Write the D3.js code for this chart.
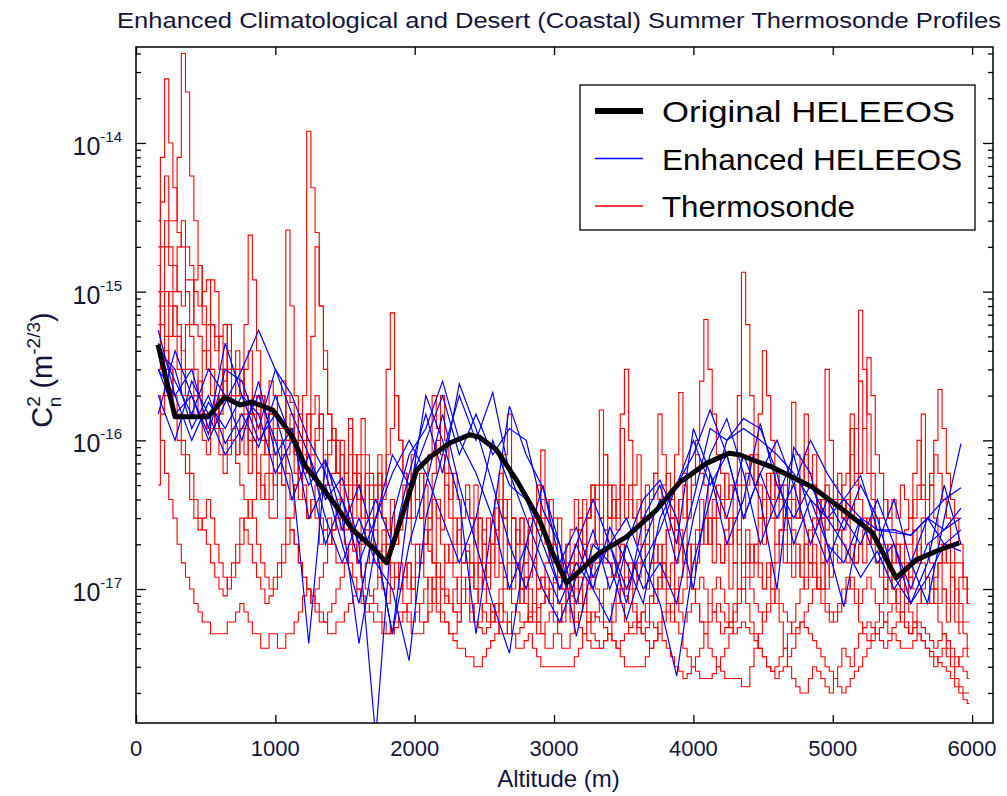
<!DOCTYPE html>
<html>
<head>
<meta charset="utf-8">
<title>Thermosonde Profiles</title>
<script src="https://d3js.org/d3.v7.min.js"></script>
<style>
  body { margin: 0; background: #fff; }
  text { font-family: "Liberation Sans", Arial, sans-serif; fill: #15153a; }
</style>
</head>
<body>
<svg id="chart" width="1007" height="796"></svg>
<script>

// thermosonde altitude grid (m), 15 per row
var sondeAlt = [
  160,190,220,250,280,310,340,370,400,430,460,490,520,550,580,
  610,640,670,700,730,760,790,820,850,880,910,940,970,1000,1030,
  1060,1090,1120,1150,1180,1210,1240,1270,1300,1330,1360,1390,1420,1450,1480,
  1510,1540,1570,1600,1630,1660,1690,1720,1750,1780,1810,1840,1870,1900,1930,
  1960,1990,2020,2050,2080,2110,2140,2170,2200,2230,2260,2290,2320,2350,2380,
  2410,2440,2470,2500,2530,2560,2590,2620,2650,2680,2710,2740,2770,2800,2830,
  2860,2890,2920,2950,2980,3010,3040,3070,3100,3130,3160,3190,3220,3250,3280,
  3310,3340,3370,3400,3430,3460,3490,3520,3550,3580,3610,3640,3670,3700,3730,
  3760,3790,3820,3850,3880,3910,3940,3970,4000,4030,4060,4090,4120,4150,4180,
  4210,4240,4270,4300,4330,4360,4390,4420,4450,4480,4510,4540,4570,4600,4630,
  4660,4690,4720,4750,4780,4810,4840,4870,4900,4930,4960,4990,5020,5050,5080,
  5110,5140,5170,5200,5230,5260,5290,5320,5350,5380,5410,5440,5470,5500,5530,
  5560,5590,5620,5650,5680,5710,5740,5770,5800,5830,5860,5890,5920,5950,5980]

var sonde1 = [
  2e-16,1e-16,6e-17,4e-17,3e-17,2e-17,1.5e-17,1.2e-17,1e-17,8e-18,7e-18,6e-18,6e-18,5e-18,5e-18,
  5e-18,5e-18,6e-18,6e-18,7e-18,8e-18,7e-18,6e-18,5e-18,5e-18,4e-18,4e-18,5e-18,5e-18,4e-18,
  4e-18,5e-18,5e-18,6e-18,7e-18,9e-18,1e-17,9e-18,8e-18,7e-18,6e-18,5e-18,5e-18,6e-18,6e-18,
  7e-18,8e-18,9e-18,1e-17,9e-18,8e-18,7e-18,6e-18,6e-18,5e-18,5e-18,6e-18,6e-18,7e-18,7e-18,
  6e-18,5e-18,5e-18,5e-18,6e-18,7e-18,8e-18,7e-18,6e-18,6e-18,5e-18,4.5e-18,4e-18,4e-18,3.5e-18,
  3.5e-18,3e-18,3e-18,3.5e-18,4e-18,4.5e-18,5e-18,6e-18,6e-18,5e-18,5e-18,4e-18,4e-18,4.5e-18,5e-18,
  4e-18,3.5e-18,3e-18,3e-18,3e-18,3e-18,3e-18,3e-18,3e-18,3e-18,3.5e-18,4e-18,5e-18,6e-18,7e-18,
  6.5e-18,6e-18,5.5e-18,5e-18,4.5e-18,4e-18,4.5e-18,5e-18,5.5e-18,6e-18,5.5e-18,5e-18,5.5e-18,6e-18,5.5e-18,
  5e-18,4.5e-18,4e-18,3.5e-18,3e-18,2.8e-18,2.5e-18,2.7e-18,3e-18,2.8e-18,2.5e-18,2.5e-18,2.5e-18,2.7e-18,3e-18,
  2.8e-18,2.5e-18,2.5e-18,2.5e-18,2.5e-18,2.2e-18,2.2e-18,3e-18,4e-18,5e-18,7e-18,8e-18,1e-17,8e-18,6e-18,
  4e-18,3e-18,2.5e-18,2.2e-18,2e-18,2e-18,2.5e-18,3e-18,2.8e-18,2.5e-18,2.2e-18,2e-18,2.5e-18,3e-18,4e-18,
  3.5e-18,3e-18,4e-18,5e-18,5.5e-18,6e-18,5.5e-18,5e-18,4.5e-18,4e-18,4.5e-18,5e-18,4.5e-18,4e-18,4e-18,
  4e-18,4.5e-18,5e-18,4.5e-18,4e-18,3.8e-18,3.5e-18,3.2e-18,3e-18,2.8e-18,2.5e-18,2.2e-18,2e-18,1.8e-18,1.7e-18]

var sonde2 = [
  1e-15,6e-16,4e-16,3e-16,2e-16,1.5e-16,1e-16,8e-17,6e-17,4e-17,3e-17,2.5e-17,2e-17,1.5e-17,1.2e-17,
  1e-17,9e-18,1.2e-17,1.5e-17,2e-17,3e-17,2.5e-17,2e-17,1.5e-17,1.2e-17,1e-17,8e-18,9e-18,1e-17,1.2e-17,
  1.5e-17,2e-17,2.5e-17,2e-17,1.5e-17,1.2e-17,1e-17,8e-18,7e-18,6e-18,6e-18,7e-18,8e-18,1e-17,1.2e-17,
  1.5e-17,2e-17,1.8e-17,1.5e-17,1.2e-17,1e-17,9e-18,8e-18,7e-18,6e-18,5e-18,5e-18,5.5e-18,6e-18,7e-18,
  8e-18,1e-17,1.2e-17,1.5e-17,2e-17,1.8e-17,1.5e-17,1.2e-17,1e-17,9e-18,8e-18,7e-18,7e-18,8e-18,8e-18,
  7e-18,6e-18,5.5e-18,5e-18,5.5e-18,6e-18,7e-18,8e-18,7e-18,6e-18,5e-18,5e-18,5.5e-18,6e-18,6.5e-18,
  7e-18,7.5e-18,8e-18,9e-18,1e-17,1.1e-17,1.2e-17,1e-17,8e-18,7e-18,6e-18,5.5e-18,5e-18,4.5e-18,4e-18,
  4e-18,4e-18,4.5e-18,5e-18,4.5e-18,4e-18,3.5e-18,3e-18,3e-18,3e-18,3e-18,3e-18,3.5e-18,4e-18,4.5e-18,
  6e-18,7e-18,8e-18,7e-18,6e-18,5e-18,4e-18,3.5e-18,3e-18,3.5e-18,4e-18,5e-18,6e-18,7e-18,8e-18,
  7e-18,6e-18,5.5e-18,5e-18,5.5e-18,6e-18,5.5e-18,5e-18,4.5e-18,4e-18,3.5e-18,3e-18,2.8e-18,2.5e-18,2.8e-18,
  3e-18,3.5e-18,4e-18,5e-18,6e-18,5.5e-18,5e-18,4.5e-18,4e-18,3.5e-18,3e-18,2.8e-18,2.5e-18,2.2e-18,2e-18,
  2.2e-18,2.5e-18,2.8e-18,3e-18,3.5e-18,4e-18,4.5e-18,5e-18,5.5e-18,6e-18,7e-18,8e-18,7e-18,6e-18,5.5e-18,
  5e-18,5.5e-18,6e-18,5.5e-18,5e-18,4.5e-18,4e-18,4.5e-18,5e-18,4.5e-18,4e-18,3.5e-18,3e-18,2.8e-18,2.5e-18]

var sonde3 = [
  2e-15,4e-15,6e-15,3e-15,3e-15,8e-15,4e-14,2.2e-14,6e-15,3e-15,1.5e-15,8e-16,6e-16,1.2e-15,1e-15,
  5e-16,2e-16,6e-16,3e-16,4e-16,2e-16,3e-16,4e-16,1.5e-16,2e-16,1e-16,8e-17,1.5e-16,1e-16,2e-16,
  2.5e-16,1e-16,1.5e-16,6e-17,1e-16,6e-17,1.5e-16,5e-16,2e-15,8e-16,4e-16,1.5e-16,1e-16,6e-17,8e-17,
  5e-17,1.2e-16,6e-17,4e-17,8e-17,3e-17,5e-17,2e-17,6e-17,3e-17,2e-17,4e-17,2e-17,3e-17,5e-17,
  3e-17,8e-17,4e-17,6e-17,2e-17,3e-17,1.5e-17,4e-17,2.5e-17,6e-17,3e-17,2e-17,3e-17,1.5e-17,2e-17,
  1.2e-17,3e-17,1.5e-17,2.5e-17,1.2e-17,2e-17,3.5e-17,1.5e-17,4e-17,2e-17,1.2e-17,2e-17,1e-17,1.5e-17,2.5e-17,
  1.5e-17,3e-17,8.6e-17,4e-17,2e-17,3e-17,1.5e-17,1e-17,1.5e-17,8e-18,1.5e-17,2.5e-17,1.5e-17,3e-17,4e-17,
  2e-17,3e-17,1.5e-17,3e-17,5e-17,2.5e-17,1.5e-16,3e-16,1e-16,5e-17,8e-17,3e-17,2e-17,3e-17,1.5e-17,
  2e-17,1.2e-17,2.5e-17,3e-17,1.5e-17,2.5e-17,1.5e-17,2e-17,1.2e-17,2.5e-17,4e-17,2e-17,3e-17,1.5e-17,2e-17,
  1.5e-17,2.5e-17,3e-17,1.5e-17,2.5e-17,1.5e-17,2e-17,1.2e-17,2e-17,3e-17,2e-17,4e-17,6e-17,3e-17,5e-17,
  2.5e-17,3e-17,1.5e-17,2e-17,1.2e-17,2e-17,1.5e-17,2.5e-17,3e-17,1.5e-17,2e-17,1.2e-17,2e-17,1.5e-17,2.5e-17,
  4e-17,1.5e-16,5e-17,7.5e-16,3e-16,1.5e-16,6e-17,2.5e-17,2e-17,1.2e-17,2e-17,1.5e-17,2e-17,1.2e-17,1e-17,
  1.5e-17,2.5e-17,1.5e-17,3e-17,2e-17,1.5e-17,1e-17,1.5e-17,1e-17,8e-18,1.2e-17,8e-18,1.2e-17,1e-17,8e-18]

var sonde4 = [
  3e-15,8e-15,2.7e-14,1e-14,5e-15,2.5e-15,2e-15,1e-15,6e-16,1.2e-15,1.5e-15,6e-16,4e-16,3e-16,2e-16,
  1.5e-16,3e-16,2e-16,1.2e-16,8e-17,1.2e-16,8e-17,1.5e-16,1e-16,6e-17,4e-17,6e-17,4e-17,8e-17,6e-17,
  5e-17,3e-17,3e-17,5e-17,8e-17,2e-16,1.2e-14,5e-15,2.5e-15,8e-16,3e-16,1.5e-16,1e-16,6e-17,5e-17,
  3e-17,5e-17,3e-17,5e-17,2e-17,3e-17,1.5e-17,2.5e-17,1.5e-17,2.5e-17,1.5e-17,1e-17,1.5e-17,1e-17,1.2e-17,
  1.5e-17,1e-17,2e-17,1.5e-17,1.2e-17,8e-18,1.2e-17,8e-18,1.2e-17,2e-17,1.5e-17,1.2e-17,8e-18,1.2e-17,8e-18,
  6e-18,8e-18,1e-17,1.5e-17,8e-18,6e-18,8e-18,6e-18,1e-17,1.5e-17,1e-17,1.5e-17,8e-18,1.2e-17,6e-18,
  8e-18,6e-18,8e-18,1.2e-17,8e-18,1.2e-17,8e-18,6e-18,8e-18,6e-18,8e-18,1.2e-17,8e-18,1.2e-17,2e-17,
  5e-17,1.6e-16,8e-17,3e-17,2e-17,1.5e-17,2e-17,1e-17,1.5e-17,1e-17,1.5e-17,2e-17,1e-17,1.5e-17,8e-18,
  1e-17,1.5e-17,1e-17,1.5e-17,1e-17,8e-18,1e-17,1.2e-17,2e-17,1.5e-17,2e-17,3e-17,2e-17,3e-17,2e-17,
  1.5e-17,2e-17,1e-17,1.5e-17,1e-17,1.5e-17,2.5e-17,1.5e-17,2e-17,1.5e-17,1e-17,1.5e-17,1e-17,1.5e-17,2e-17,
  1.5e-17,6e-17,1.8e-16,8e-17,3e-17,2e-17,1.5e-17,2e-17,1e-17,1.5e-17,1e-17,1.5e-17,2.5e-17,4e-17,3e-17,
  3e-17,2e-17,1.5e-17,2e-17,1.5e-17,2e-17,3e-17,2e-17,1.5e-17,1e-17,1.5e-17,1e-17,8e-18,1e-17,8e-18,
  1.2e-17,1.5e-17,2e-17,1.5e-17,1.2e-17,8e-18,1e-17,8e-18,1e-17,6e-18,8e-18,6e-18,5e-18,null,null]

var sonde5 = [
  1e-15,2e-15,3e-15,2e-15,1.5e-15,1e-15,8e-16,1.2e-15,1.2e-15,6e-16,5e-16,4e-16,3e-16,6e-16,5e-16,
  3e-16,2.5e-16,4e-16,3e-16,2e-16,2e-16,6e-16,2.4e-15,1.2e-15,4e-16,2e-16,1.5e-16,2.5e-16,2e-16,1.2e-16,
  1.2e-16,2e-16,1.8e-16,1e-16,1.5e-16,1e-16,1.5e-16,8e-17,1.2e-16,1.5e-16,7e-17,1e-16,1.2e-16,6e-17,1e-16,
  6e-17,8e-17,5e-17,8e-17,1.4e-16,8e-17,6e-17,4e-17,6e-17,4e-17,3e-16,7.2e-16,2e-16,1e-16,6e-17,
  5e-17,3e-17,4e-17,3e-17,6e-17,8e-17,2e-16,1.2e-16,8e-17,5e-17,4e-17,6e-17,4e-17,3e-17,5e-17,
  3e-17,5e-17,3e-17,2e-17,3e-17,2e-17,4e-17,6e-17,3e-17,4e-17,3e-17,2e-17,3e-17,2e-17,3e-17,
  3e-17,2.5e-17,4e-17,3e-17,4e-17,2e-17,3e-17,1.5e-17,2e-17,2.5e-17,4e-17,3e-17,4e-17,3e-17,5e-17,
  4e-17,5e-17,8e-17,5e-17,3e-17,4e-17,5e-17,3e-17,4e-17,3e-17,2e-17,3e-17,2.5e-17,4e-17,6e-17,
  1.5e-16,8e-17,4e-17,3e-17,2.5e-17,4e-17,3e-17,4e-17,6e-17,1e-16,2.5e-16,6.5e-16,3e-16,1.5e-16,8e-17,
  6e-17,4e-17,5e-17,3e-17,5e-17,3e-17,5e-17,8e-17,5e-17,1.5e-16,4e-16,2e-16,1e-16,5e-17,5e-17,
  5e-17,3e-17,4e-17,3e-17,5e-17,8e-17,5e-17,8e-17,4e-17,3e-17,4e-17,3e-17,5e-17,4e-17,3e-17,
  4e-17,3e-17,4e-17,6e-17,1.2e-16,3.6e-16,2e-16,8e-17,6e-17,4e-17,3e-17,4e-17,3e-17,5e-17,4e-17,
  3e-17,6e-17,1e-16,5e-17,4e-17,6e-17,1e-16,2.2e-16,1.2e-16,6e-17,4e-17,3e-17,2e-17,1.2e-17,8e-18]

var sonde6 = [
  3e-16,6e-16,1e-15,8e-16,5e-16,3e-16,2e-16,3e-16,3e-16,2e-16,1.5e-16,1e-16,8e-17,1.2e-16,1.5e-16,
  8e-17,6e-17,8e-17,1e-16,7e-17,5e-17,4e-17,3e-17,4e-17,6e-17,5e-17,4e-17,3e-17,3e-17,6e-17,
  1e-16,2.6e-15,8e-16,2e-16,8e-17,5e-17,3e-17,4e-17,3e-17,2e-17,2.5e-17,3e-17,2e-17,1.5e-17,1.5e-17,
  1.5e-17,2e-17,2.5e-17,1.5e-17,1.2e-17,1.5e-17,2e-17,1.5e-17,1.2e-17,1e-17,8e-18,1e-17,1.2e-17,1e-17,1.2e-17,
  1.5e-17,1e-17,8e-18,6e-18,6e-18,8e-18,1e-17,1.5e-17,1.2e-17,1e-17,8e-18,7e-18,6e-18,1e-17,1.2e-17,
  8e-18,6e-18,6e-18,8e-18,1e-17,1.5e-17,2e-17,4e-17,8e-17,1.5e-16,3e-17,1.5e-17,1e-17,8e-18,6e-18,
  6e-18,5e-18,5e-18,6e-18,7e-18,6e-18,5e-18,4e-18,4e-18,5e-18,6e-18,7e-18,8e-18,1e-17,1.2e-17,
  1e-17,8e-18,6e-18,6e-18,8e-18,1e-17,8e-18,6e-18,5e-18,5e-18,6e-18,7e-18,6e-18,8e-18,1e-17,
  1.2e-17,1e-17,8e-18,6e-18,8e-17,2.1e-16,6e-17,2e-17,1e-17,8e-18,6e-18,6e-18,8e-18,1e-17,1.2e-17,
  1e-17,8e-18,6e-18,8e-18,1e-17,1.2e-17,1.5e-17,2e-17,1.5e-17,1.2e-17,1e-17,1.2e-17,1.5e-17,2e-17,2.5e-17,
  2e-17,1.5e-17,1.2e-17,1.5e-17,1.2e-17,1e-17,1.2e-17,1.5e-17,1e-17,1e-17,3e-16,1e-16,4e-17,2.5e-17,2e-17,
  1.5e-17,2e-17,1.5e-17,2e-17,2.5e-17,3e-17,2e-17,1.5e-17,1.2e-17,1e-17,8e-18,8e-18,1e-17,1.2e-17,1.5e-17,
  1.2e-17,1e-17,1e-17,8e-18,8e-18,1e-17,1.2e-17,1.5e-17,2e-17,1.5e-17,1.2e-17,8e-18,6e-18,5e-18,4e-18]

var sonde7 = [
  6e-16,1e-15,2e-15,1.5e-15,1e-15,2e-15,3e-15,2e-15,1.5e-15,1e-15,8e-16,1e-15,1.2e-15,6e-16,4e-16,
  5e-16,6e-16,3e-16,2e-16,3e-16,3e-16,2e-16,1.5e-16,2e-16,2e-16,1.2e-16,1e-16,1.5e-16,1.5e-16,1e-16,
  8e-17,1e-16,1.2e-16,8e-17,6e-17,8e-17,1e-16,1.5e-16,2e-16,1.2e-16,8e-17,5e-17,6e-17,1e-16,8e-17,
  6e-17,4e-17,6e-17,4e-17,3e-17,6e-17,4e-17,3e-17,5e-17,3e-17,2.5e-17,3e-17,2e-17,2.5e-17,3e-17,
  3e-17,2e-17,2e-17,1.5e-17,2e-17,2.5e-17,4e-17,3e-17,2e-17,1.5e-17,2e-17,1.5e-17,2.5e-17,2e-17,1.5e-17,
  1.5e-17,1e-17,1.5e-17,2e-17,1.5e-17,2e-17,1.2e-17,1.5e-17,1.2e-17,2e-17,1.5e-17,2.5e-17,2e-17,1.5e-17,1.2e-17,
  1.5e-17,1e-17,1.2e-17,1.5e-17,2e-17,1.5e-17,1.2e-17,1.5e-17,2e-17,1.5e-17,1.2e-17,1.5e-17,2e-17,1.5e-17,1.2e-17,
  1.5e-17,2e-17,2.5e-17,1.5e-17,1.2e-17,1.5e-17,2e-17,1.5e-17,1.2e-17,1.5e-17,1.2e-17,1.5e-17,2e-17,1.5e-17,2e-17,
  1.5e-17,2e-17,2.5e-17,3e-17,2.5e-17,2e-17,1.5e-17,2e-17,1.5e-17,2e-17,2.5e-17,3e-17,2e-17,3e-17,5e-17,
  4e-17,3e-17,2e-17,3e-17,2e-17,1.35e-15,6e-16,2e-16,8e-17,5e-17,3e-17,4e-17,3e-17,2e-17,2.5e-17,
  3e-17,2e-17,2.5e-17,2e-17,1.5e-17,2e-17,2.5e-17,3e-17,4e-17,3e-17,2.5e-17,3e-17,2.5e-17,4e-17,5e-17,
  6e-17,8e-17,1.2e-16,2.5e-16,1.2e-16,6e-17,4e-17,3e-17,2.5e-17,2e-17,1.5e-17,2e-17,1.5e-17,2e-17,2.5e-17,
  3e-17,4e-17,5e-17,4e-17,3e-17,5e-17,8e-17,6e-17,4e-17,3e-17,2e-17,1.5e-17,1.5e-17,1.2e-17,1e-17]

var sonde8 = [
  5e-17,1.5e-16,3e-16,5e-16,8e-16,6e-16,4e-16,2e-16,1.5e-16,2e-16,2.5e-16,1.5e-16,1.2e-16,1.5e-16,2e-16,
  1.2e-16,8e-17,1e-16,1.2e-16,2e-16,2.5e-16,1.5e-16,1e-16,8e-17,6e-17,8e-17,1e-16,6e-17,5e-17,6e-17,
  8e-17,6e-17,4e-17,5e-17,6e-17,4e-17,3e-17,4e-17,5e-17,3e-17,2.5e-17,2e-17,2.5e-17,4e-17,3e-17,
  2.5e-17,3e-17,2e-17,1.5e-17,2e-17,2.5e-17,2e-17,1.5e-17,1.8e-17,2e-17,1.5e-17,1.2e-17,1.2e-17,1.5e-17,1.2e-17,
  1e-17,1.2e-17,1.5e-17,2e-17,2.5e-17,2e-17,1.5e-17,1.2e-17,1e-17,8e-18,8e-18,1e-17,1.2e-17,1.5e-17,1.8e-17,
  1.5e-17,1e-17,8e-18,7e-18,6e-18,7e-18,8e-18,1e-17,1.2e-17,1e-17,8e-18,7e-18,6e-18,6e-18,7e-18,
  8e-18,1e-17,1.2e-17,1e-17,8e-18,7e-18,6e-18,7e-18,8e-18,9e-18,1.2e-17,1e-17,8e-18,7e-18,6e-18,
  7e-18,8e-18,1e-17,1.2e-17,1.5e-17,1.2e-17,1e-17,9e-18,8e-18,7e-18,6e-18,7e-18,8e-18,9e-18,1e-17,
  1.2e-17,1.5e-17,1.2e-17,1e-17,8e-18,7e-18,6e-18,7e-18,8e-18,1e-17,1.2e-17,1e-17,8e-18,7e-18,6e-18,
  5e-18,5.5e-18,6e-18,7e-18,8e-18,1e-17,1.2e-17,1e-17,8e-18,7e-18,6e-18,7e-18,8e-18,1e-17,8e-18,
  7e-18,6e-18,5e-18,5.5e-18,6e-18,7e-18,8e-18,1e-17,1.2e-17,1e-17,8e-18,7e-18,6e-18,7e-18,8e-18,
  1e-17,1.2e-17,1e-17,8e-18,1e-17,1.2e-17,1e-17,8e-18,7e-18,6e-18,5e-18,5.5e-18,6e-18,7e-18,8e-18,
  7e-18,6e-18,5e-18,4.5e-18,4e-18,3.5e-18,3e-18,3.5e-18,4e-18,3.5e-18,3e-18,2.5e-18,2.2e-18,2e-18,2e-18]

var sonde9 = [
  1.5e-15,8e-16,5e-16,1e-15,8e-16,5e-16,3e-16,6e-16,5e-16,3e-16,2e-16,4e-16,3e-16,2e-16,1.2e-16,
  2e-16,3e-16,2e-16,1e-16,8e-17,1.5e-16,1.2e-16,6e-17,1e-16,1.5e-16,2e-16,1.2e-16,8e-17,1.2e-16,6e-17,
  5e-17,8e-17,1.2e-16,8e-17,4e-17,6e-17,8e-17,6e-17,1e-16,1.5e-16,5e-17,8e-17,1.2e-16,6e-17,4e-17,
  6e-17,1.4e-16,8e-17,6e-17,4e-17,5e-17,3e-17,5e-17,8e-17,5e-17,8e-17,1.2e-16,2e-16,1e-16,6e-17,
  4e-17,6e-17,4e-17,3e-17,5e-17,3e-17,6e-17,1e-16,2e-16,1e-16,6e-17,3e-17,2e-17,3e-17,4e-17,
  3e-17,2e-17,3e-17,2e-17,1.5e-17,2e-17,2.5e-17,4e-17,3e-17,2e-17,3e-17,2e-17,3e-17,2e-17,2.5e-17,
  3e-17,5e-17,3e-17,2e-17,1.5e-17,2e-17,1e-17,1.5e-17,1e-17,1.5e-17,2e-17,3e-17,2e-17,3e-17,5e-17,
  4e-17,3e-17,5e-17,3e-17,4e-17,3e-17,1.2e-16,4e-17,5e-17,3e-17,4e-17,3e-17,5e-17,4e-17,6e-17,
  4e-17,5e-17,6e-17,4e-17,3e-17,4e-17,5e-17,3e-17,5e-17,8e-17,6e-17,5e-17,3e-17,4e-17,3e-17,
  4e-17,6e-17,4e-17,5e-17,2e-16,5e-17,6e-17,8e-17,5e-17,3e-17,4e-17,6e-17,4e-17,6e-17,4e-17,
  3e-17,4e-17,5e-17,3e-17,5e-17,1.5e-16,6e-17,5e-17,3e-17,4e-17,5e-17,3e-17,4e-17,6e-17,4e-17,
  3e-17,1.2e-16,6e-17,4e-17,3e-17,2e-17,3e-17,2e-17,3e-17,4e-17,3e-17,2.5e-17,2e-17,1.5e-17,2e-17,
  2e-17,3e-17,4e-17,1.5e-16,4e-17,5e-17,3e-17,2e-17,1.5e-17,2e-17,1.5e-17,1e-17,8e-18,6e-18,6e-18]

var sonde10 = [
  8e-16,4e-16,2e-16,3e-16,1.5e-16,1e-16,8e-17,6e-17,4e-17,3e-17,2.5e-17,3e-17,4e-17,3e-17,2e-17,
  1.5e-17,1.2e-17,1e-17,1.2e-17,1.5e-17,2e-17,3e-17,4e-17,3e-17,2e-17,1.5e-17,1.2e-17,1e-17,1.2e-17,1.5e-17,
  2e-17,3e-17,2.5e-17,2e-17,1.5e-17,1.2e-17,1e-17,8e-18,1e-17,1.2e-17,1.5e-17,2e-17,2.5e-17,3e-17,2.5e-17,
  2e-17,1.5e-17,1.2e-17,1e-17,8e-18,7e-18,8e-18,1e-17,1.2e-17,1.5e-17,2e-17,1.5e-17,1.2e-17,1e-17,8e-18,
  7e-18,6e-18,7e-18,8e-18,1e-17,1.2e-17,1e-17,8e-18,7e-18,6e-18,5e-18,5e-18,6e-18,8e-18,1e-17,
  1.2e-17,1.5e-17,1.2e-17,1e-17,8e-18,7e-18,6e-18,5e-18,5e-18,6e-18,7e-18,8e-18,1e-17,1.2e-17,1e-17,
  8e-18,6e-18,5e-18,4e-18,4e-18,5e-18,6e-18,8e-18,1e-17,1.2e-17,1e-17,8e-18,7e-18,6e-18,5e-18,
  4.5e-18,4e-18,4.5e-18,5e-18,6e-18,8e-18,1e-17,1.2e-17,1e-17,8e-18,6e-18,5e-18,4.5e-18,4e-18,4.5e-18,
  5e-18,6e-18,7e-18,8e-18,1e-17,1.2e-17,1.5e-17,1.2e-17,1e-17,8e-18,6e-18,5e-18,4e-18,3.5e-18,3e-18,
  3.5e-18,4e-18,5e-18,6e-18,8e-18,1e-17,8e-18,6e-18,5e-18,4e-18,3.5e-18,3e-18,2.8e-18,3e-18,3.5e-18,
  4e-18,5e-18,6e-18,8e-18,1e-17,1.2e-17,1.5e-17,1.2e-17,1e-17,8e-18,7e-18,6e-18,7e-18,8e-18,1e-17,
  1.2e-17,1e-17,8e-18,6e-18,5e-18,4.5e-18,5e-18,6e-18,8e-18,1e-17,1.2e-17,1e-17,8e-18,7e-18,6e-18,
  5e-18,6e-18,8e-18,1e-17,1.2e-17,1e-17,8e-18,6e-18,5e-18,4e-18,3.5e-18,3e-18,3.5e-18,4e-18,3.5e-18]

// enhanced HELEEOS altitude grid (m)
var helAlt = [
  160,280,400,520,640,760,880,1000,1120,1240,
  1360,1480,1600,1720,1840,1960,2080,2200,2320,2440,
  2560,2680,2800,2920,3040,3160,3280,3400,3520,3640,
  3760,3880,4000,4120,4240,4360,4480,4600,4720,4840,
  4960,5080,5200,5320,5440,5560,5680,5800,5920]

var hel1 = [
  5.5e-16,2e-16,3e-16,1.2e-16,4.5e-16,2e-16,1e-16,1.5e-16,6e-17,4.3e-18,
  7e-17,4e-17,2e-17,1e-18,3e-17,8e-17,1.2e-16,2.5e-16,1e-16,6e-17,
  3e-17,1e-17,2e-17,5e-17,1.5e-17,2.6e-17,1.2e-17,2e-17,8e-18,3e-17,
  5e-17,2e-17,1.2e-16,6e-17,3e-17,8e-17,4e-17,1e-17,9e-17,6e-17,
  2e-17,7.6e-18,3e-17,2e-17,4e-17,1.5e-17,8e-18,3e-17,9.5e-17]

var hel2 = [
  3e-16,1.5e-16,2e-16,1e-16,1.8e-16,3e-16,5.5e-16,3e-16,1.5e-16,8e-17,
  4e-17,5.6e-17,2e-17,4e-17,2e-17,6e-17,1.5e-16,6e-17,2.4e-16,1.2e-16,
  5e-17,2e-17,1e-17,2.5e-17,1e-17,2e-17,1e-17,2.6e-17,1.5e-17,8e-18,
  3e-17,5e-17,8e-17,1.6e-16,8e-17,3e-17,6e-17,3e-17,5e-17,1e-16,
  6e-17,4e-17,5.8e-17,2.5e-17,2.4e-17,2.3e-17,3e-17,4e-17,4.8e-17]

var hel3 = [
  4e-16,3e-16,1.2e-16,2e-16,9.5e-17,1.5e-16,9e-17,2e-16,1e-16,5e-17,
  7.4e-17,3e-17,4.3e-18,2e-17,5e-18,4e-17,2e-16,1e-16,4e-17,5e-18,
  3e-17,1.7e-16,8e-17,4.8e-17,2e-17,4.8e-18,1.5e-17,2e-17,3e-17,1.5e-17,
  8e-18,2.6e-18,1.5e-17,4e-17,1e-16,1.4e-16,1.2e-16,6e-17,2e-17,4e-17,
  2e-17,1.5e-17,3e-17,1.5e-17,2e-17,1e-17,2e-17,2.5e-17,3.5e-17]

var hel4 = [
  2e-16,1e-16,2.5e-16,1.5e-16,8e-17,1.2e-16,2e-16,1e-16,4e-17,8e-17,
  3e-17,1.5e-17,3e-17,1.5e-17,1e-17,3.3e-18,3e-17,8e-17,2e-16,1e-16,
  2.1e-16,6e-17,3e-17,1.5e-17,8e-18,1.5e-17,1e-17,6e-18,2e-17,4e-17,
  5.4e-17,3e-17,1e-17,6e-17,2e-17,4e-17,1.3e-16,5e-17,3e-17,5e-17,
  3e-17,2e-17,1.2e-17,1.8e-17,1e-17,1.5e-17,3e-17,2e-17,1.8e-17]

var hel5 = [
  4.5e-16,2.5e-16,1.5e-16,3e-16,2e-16,1e-16,2.5e-16,8e-17,1.2e-16,3e-17,
  5e-17,2e-17,8e-18,3e-17,8e-17,5e-17,1e-16,2e-16,8e-17,1.5e-16,
  8e-17,1.2e-16,1e-16,3.4e-17,2e-17,8e-18,2e-17,1.5e-17,6.2e-18,1.5e-17,
  2.5e-17,5e-17,1e-16,5e-17,8e-17,3e-17,6e-17,1e-16,5e-17,2e-17,
  4e-17,2.5e-17,5e-17,3e-17,1.2e-17,8e-18,1.5e-17,5e-17,2e-17]

var hel6 = [
  1.5e-16,4e-16,2e-16,1.1e-16,3e-16,2.5e-16,1.2e-16,3e-16,2e-16,1e-16,
  6e-17,2.5e-17,5e-17,2e-17,5e-18,2e-17,5e-17,1.5e-16,5e-17,2e-17,
  8e-18,3.7e-18,2e-17,1e-17,6e-18,1.2e-17,2.5e-17,1e-17,2e-17,1e-17,
  1.5e-17,8e-18,3e-17,8e-17,1.4e-16,6e-17,2e-17,4e-17,8e-17,3e-17,
  1.5e-17,3e-17,2e-17,4e-17,2e-17,8e-18,1.2e-17,2e-17,2.5e-17]

var hel7 = [
  3e-16,2e-16,1e-16,1.8e-16,1.2e-16,2e-16,1.5e-16,6e-17,1e-16,6e-17,
  2e-17,4e-17,1.5e-17,3e-17,6e-17,1e-16,6e-17,3e-17,1.5e-17,3e-17,
  1e-16,5e-17,4e-17,2e-17,1e-17,2e-17,4e-17,2e-17,1e-17,2e-17,
  4e-17,1.5e-17,4e-17,1.2e-16,1e-16,1.2e-16,1e-16,8e-17,6e-17,4e-17,
  3e-17,4e-17,3e-17,2.5e-17,2.5e-17,2.3e-17,3e-17,2.5e-17,3e-17]

// original HELEEOS profile
var origAlt = [158,280,516,638,746,832,982,1125,1211,1297,
  1441,1556,1699,1799,1871,2014,2108,2251,2394,2466,
  2588,2731,2896,2989,3090,3326,3520,3735,3900,4093,
  4258,4330,4566,4853,5047,5283,5455,5599,5763,5907]
var origCn2 = [4.4e-16,1.44e-16,1.44e-16,1.95e-16,1.73e-16,1.81e-16,1.6e-16,1.05e-16,6.8e-17,5.4e-17,
  3.56e-17,2.5e-17,1.9e-17,1.5e-17,2.4e-17,6.3e-17,7.7e-17,9.6e-17,1.09e-16,1.05e-16,
  8.6e-17,5.4e-17,2.9e-17,1.75e-17,1.1e-17,1.75e-17,2.24e-17,3.4e-17,5.2e-17,7e-17,
  8.2e-17,8e-17,6.6e-17,4.85e-17,3.56e-17,2.4e-17,1.19e-17,1.57e-17,1.83e-17,2.04e-17]

var xTicks = [0,1000,2000,3000,4000,5000,6000]
var yDecades = [1e-17,1e-16,1e-15,1e-14]
var legendNames = ['Original HELEEOS','Enhanced HELEEOS','Thermosonde']

var sondes = [sonde1,sonde2,sonde3,sonde4,sonde5,sonde6,sonde7,sonde8,sonde9,sonde10]
var hels = [hel1,hel2,hel3,hel4,hel5,hel6,hel7]

// plot box (window.top is read-only, so no bare "top")
var pL = 136, pR = 993, pT = 47, pB = 723

var x = d3.scaleLinear().domain([0, 6150]).range([pL, pR])
var y = d3.scaleLog().domain([1.256e-18, 4.42e-14]).range([pB, pT])

var svg = d3.select('#chart')

svg.append('clipPath').attr('id', 'clip')
  .append('rect')
  .attr('x', pL).attr('y', pT)
  .attr('width', pR - pL).attr('height', pB - pT)

var plot = svg.append('g').attr('clip-path', 'url(#clip)')

var stepLine = d3.line()
  .defined((d) => d[1] != null)
  .x((d) => x(d[0]))
  .y((d) => y(d[1]))
  .curve(d3.curveStep)

var straightLine = d3.line()
  .x((d) => x(d[0]))
  .y((d) => y(d[1]))

plot.selectAll('.sonde')
  .data(sondes)
  .enter()
  .append('path')
  .classed('sonde', true)
  .attr('d', (s) => stepLine(s.map((v, i) => [sondeAlt[i], v])))
  .style('fill', 'none')
  .style('stroke', '#ff0000')
  .style('stroke-width', 1.1)

plot.selectAll('.hel')
  .data(hels)
  .enter()
  .append('path')
  .classed('hel', true)
  .attr('d', (s) => straightLine(s.map((v, i) => [helAlt[i], v])))
  .style('fill', 'none')
  .style('stroke', '#0000ff')
  .style('stroke-width', 1.2)

plot.append('path')
  .attr('d', straightLine(origCn2.map((v, i) => [origAlt[i], v])))
  .style('fill', 'none')
  .style('stroke', '#000')
  .style('stroke-width', 5)
  .style('stroke-linejoin', 'round')

// axes: ticks point inward on all four sides
var yAll = y.ticks().filter((d) => d >= y.domain()[0] && d <= y.domain()[1])
var isMajor = (d) => Math.abs(Math.log10(d) - Math.round(Math.log10(d))) < 1e-6

function clean(g) {
  g.select('.domain').remove()
  g.selectAll('.tick line').style('stroke', '#000').style('stroke-width', 1.3)
}

svg.append('g').attr('transform', 'translate(' + pL + ',0)')
  .call(d3.axisRight(y).tickValues(yAll).tickFormat(''))
  .call(clean)
  .selectAll('.tick line').attr('x2', (d) => isMajor(d) ? 10 : 5)

svg.append('g').attr('transform', 'translate(' + pR + ',0)')
  .call(d3.axisLeft(y).tickValues(yAll).tickFormat(''))
  .call(clean)
  .selectAll('.tick line').attr('x2', (d) => isMajor(d) ? -10 : -5)

svg.append('g').attr('transform', 'translate(0,' + pB + ')')
  .call(d3.axisTop(x).tickValues(xTicks).tickFormat('').tickSize(8))
  .call(clean)

svg.append('g').attr('transform', 'translate(0,' + pT + ')')
  .call(d3.axisBottom(x).tickValues(xTicks).tickFormat('').tickSize(8))
  .call(clean)

svg.append('rect')
  .attr('x', pL).attr('y', pT)
  .attr('width', pR - pL).attr('height', pB - pT)
  .style('fill', 'none')
  .style('stroke', '#000')
  .style('stroke-width', 1.5)

// tick labels
svg.selectAll('.xlab')
  .data(xTicks)
  .enter()
  .append('text')
  .classed('xlab', true)
  .attr('x', (d) => x(d))
  .attr('y', 756)
  .attr('text-anchor', 'middle')
  .style('font-size', '22px')
  .text((d) => d)

var ylab = svg.selectAll('.ylab')
  .data(yDecades)
  .enter()
  .append('text')
  .classed('ylab', true)
  .attr('x', 122)
  .attr('y', (d) => y(d) + 12)
  .attr('text-anchor', 'end')
  .style('font-size', '25px')
ylab.append('tspan').text('10')
ylab.append('tspan')
  .attr('dy', -13)
  .style('font-size', '15px')
  .text((d) => Math.round(Math.log10(d)))

// titles
svg.append('text')
  .attr('x', 117)
  .attr('y', 28)
  .attr('textLength', 884)
  .attr('lengthAdjust', 'spacingAndGlyphs')
  .style('font-size', '22px')
  .text('Enhanced Climatological and Desert (Coastal) Summer Thermosonde Profiles')

svg.append('text')
  .attr('x', (pL + pR) / 2 - 6)
  .attr('y', 787)
  .attr('text-anchor', 'middle')
  .style('font-size', '24px')
  .text('Altitude (m)')

var yt = svg.append('text')
  .attr('transform', 'translate(52,370) rotate(-90)')
  .attr('text-anchor', 'middle')
  .style('font-size', '29px')
yt.append('tspan').text('C')
yt.append('tspan').attr('dy', -12).style('font-size', '19px').text('2')
yt.append('tspan').attr('dx', -11).attr('dy', 21).style('font-size', '19px').text('n')
yt.append('tspan').attr('dy', -9).text(' (m')
yt.append('tspan').attr('dy', -12).style('font-size', '19px').text('-2/3')
yt.append('tspan').attr('dy', 12).text(')')

// legend
var lg = svg.append('g')
lg.append('rect')
  .attr('x', 580).attr('y', 85)
  .attr('width', 395).attr('height', 145)
  .style('fill', '#fff')
  .style('stroke', '#000')
  .style('stroke-width', 1.3)

var legendColors = ['#000', '#0000ff', '#ff0000']
var legendWidths = [6, 1.5, 1.5]
var legendLens = [293, 300, 193]

lg.selectAll('.lgline')
  .data(legendNames)
  .enter()
  .append('line')
  .attr('x1', 595).attr('x2', 643)
  .attr('y1', (d, i) => 111 + i * 47.5)
  .attr('y2', (d, i) => 111 + i * 47.5)
  .style('stroke', (d, i) => legendColors[i])
  .style('stroke-width', (d, i) => legendWidths[i])

lg.selectAll('.lgtext')
  .data(legendNames)
  .enter()
  .append('text')
  .attr('x', 662)
  .attr('y', (d, i) => 122 + i * 47.5)
  .attr('textLength', (d, i) => legendLens[i])
  .attr('lengthAdjust', 'spacingAndGlyphs')
  .style('font-size', '30px')
  .style('fill', '#000')
  .text((d) => d)

</script>
</body>
</html>
